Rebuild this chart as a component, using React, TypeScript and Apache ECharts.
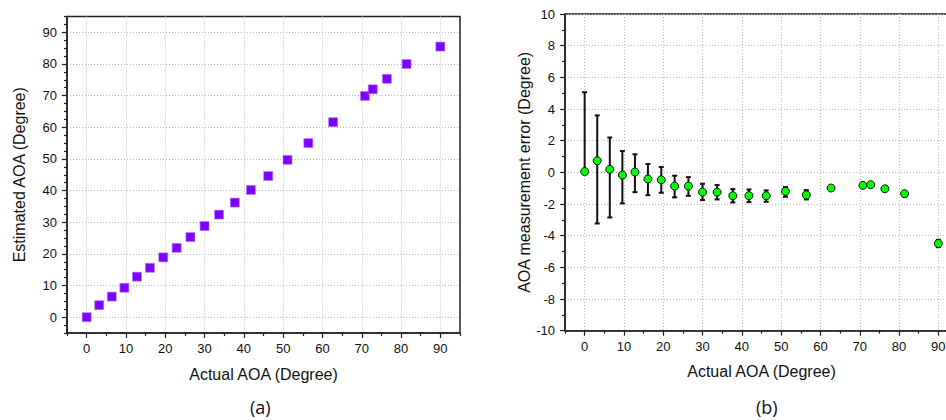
import React, { useEffect, useRef } from "react";
import * as echarts from "echarts";

// Actual AOA (degrees), shared by both panels
const actualAOA = [0, 3.2, 6.4, 9.6, 12.8, 16.1, 19.5, 22.9, 26.4, 30, 33.7, 37.7, 41.8, 46.2, 51.1, 56.4, 62.7, 70.8, 72.8, 76.4, 81.4, 90];
// Panel (a): estimated AOA
const estimatedAOA = [0, 3.8, 6.5, 9.3, 12.8, 15.6, 18.9, 21.9, 25.3, 28.8, 32.4, 36.2, 40.2, 44.6, 49.7, 55.0, 61.6, 69.9, 72.0, 75.3, 80.0, 85.5];
// Panel (b): mean measurement error and error-bar limits
const meanError = [0.05, 0.73, 0.19, -0.17, 0.02, -0.42, -0.47, -0.87, -0.87, -1.25, -1.25, -1.48, -1.47, -1.48, -1.2, -1.42, -0.99, -0.82, -0.78, -1.04, -1.35, -4.49];
const errorUpper = [5.06, 3.6, 2.2, 1.35, 1.14, 0.53, 0.34, -0.21, -0.3, -0.72, -0.8, -1.06, -1.08, -1.14, -0.93, -1.12, -0.93, -0.79, -0.75, -0.9, -1.2, -4.26];
const errorLower = [0.05, -3.23, -2.85, -1.96, -1.25, -1.44, -1.29, -1.58, -1.48, -1.75, -1.71, -1.9, -1.88, -1.86, -1.54, -1.71, -1.05, -0.85, -0.81, -1.18, -1.5, -4.72];

// Tick values
const xMajorTicks = [0, 10, 20, 30, 40, 50, 60, 70, 80, 90];
const xMinorTicks = [-5, 5, 15, 25, 35, 45, 55, 65, 75, 85, 95];
const yaMajorTicks = [0, 10, 20, 30, 40, 50, 60, 70, 80, 90];
const yaMinorTicks = [-5, -2.5, 2.5, 5, 7.5, 12.5, 15, 17.5, 22.5, 25, 27.5, 32.5, 35, 37.5, 42.5, 45, 47.5, 52.5, 55, 57.5, 62.5, 65, 67.5, 72.5, 75, 77.5, 82.5, 85, 87.5, 92.5, 95];

const AX = "#222";
const LABEL_FONT = "Liberation Sans";

function mainAxis(extra: any) {
  return {
    type: "value",
    axisLine: { show: true, onZero: false, lineStyle: { color: AX, width: 1.5 } },
    axisTick: { show: true, length: 5, lineStyle: { color: AX, width: 1.2 } },
    axisLabel: { color: "#111", fontSize: 13, fontFamily: LABEL_FONT },
    splitLine: { show: true, lineStyle: { color: "#bdbdbd", type: [1, 2], width: 1 } },
    nameLocation: "middle",
    nameTextStyle: { color: "#111", fontSize: 16, fontFamily: LABEL_FONT },
    ...extra,
  };
}

function minorAxis(extra: any) {
  return {
    type: "value",
    axisLine: { show: false, onZero: false },
    axisLabel: { show: false },
    splitLine: { show: false },
    axisTick: { show: true, length: 3, lineStyle: { color: AX, width: 1.2 } },
    ...extra,
  };
}

export default function App() {
  const ref = useRef<HTMLDivElement>(null);

  useEffect(() => {
    if (!ref.current) return;
    const chart = echarts.init(ref.current, null, { renderer: "svg" });

    const scatterA = actualAOA.map((x, i) => [x, estimatedAOA[i]]);
    const scatterB = actualAOA.map((x, i) => [x, meanError[i]]);
    const bars = actualAOA.map((x, i) => [x, errorLower[i], errorUpper[i]]);

    chart.setOption({
      animation: false,
      backgroundColor: "#fff",
      grid: [
        { left: 67, top: 16.5, width: 393, height: 316.5, show: true, borderColor: AX, borderWidth: 1.5, backgroundColor: "transparent" },
        { left: 565, top: 14, width: 393, height: 316.7, show: true, borderColor: AX, borderWidth: 1.5, backgroundColor: "transparent" },
      ],
      xAxis: [
        mainAxis({
          gridIndex: 0, position: "bottom", min: -5, max: 95, splitNumber: 10,
          axisTick: { show: true, length: 5, customValues: xMajorTicks, lineStyle: { color: AX, width: 1.2 } },
          axisLabel: { color: "#111", fontSize: 13, fontFamily: LABEL_FONT, margin: 9, customValues: xMajorTicks },
          name: "Actual AOA (Degree)", nameGap: 33,
        }),
        minorAxis({ gridIndex: 0, position: "bottom", min: -5, max: 95, axisTick: { show: true, length: 3, customValues: xMinorTicks, lineStyle: { color: AX, width: 1.2 } } }),
        mainAxis({
          gridIndex: 1, position: "bottom", min: -5, max: 95, splitNumber: 10,
          axisTick: { show: true, length: 5, customValues: xMajorTicks, lineStyle: { color: AX, width: 1.2 } },
          axisLabel: { color: "#111", fontSize: 13, fontFamily: LABEL_FONT, margin: 9, customValues: xMajorTicks },
          name: "Actual AOA (Degree)", nameGap: 33,
        }),
        minorAxis({ gridIndex: 1, position: "bottom", min: -5, max: 95, axisTick: { show: true, length: 3, customValues: xMinorTicks, lineStyle: { color: AX, width: 1.2 } } }),
      ],
      yAxis: [
        mainAxis({
          gridIndex: 0, position: "left", min: -5, max: 95, splitNumber: 10,
          axisTick: { show: true, length: 5, customValues: yaMajorTicks, lineStyle: { color: AX, width: 1.2 } },
          axisLabel: { color: "#111", fontSize: 13, fontFamily: LABEL_FONT, margin: 10, customValues: yaMajorTicks },
          name: "Estimated AOA (Degree)", nameGap: 40,
        }),
        minorAxis({ gridIndex: 0, position: "left", min: -5, max: 95, axisTick: { show: true, length: 3, customValues: yaMinorTicks, lineStyle: { color: AX, width: 1.2 } } }),
        mainAxis({
          gridIndex: 1, position: "left", min: -10, max: 10, interval: 2,
          minorTick: { show: true, splitNumber: 2, length: 3, lineStyle: { color: AX, width: 1.2 } },
          axisLabel: { color: "#111", fontSize: 13, fontFamily: LABEL_FONT, margin: 10 },
          name: "AOA measurement error (Degree)", nameGap: 33,
        }),
      ],
      series: [
        {
          type: "scatter", xAxisIndex: 0, yAxisIndex: 0, data: scatterA,
          symbol: "rect", symbolSize: 9,
          itemStyle: { color: "#7f00ff", borderColor: "#b07cff", borderWidth: 0.6, opacity: 1 },
          z: 5,
        },
        {
          type: "custom", xAxisIndex: 2, yAxisIndex: 2, data: bars,
          encode: { x: 0, y: [1, 2] },
          clip: false,
          renderItem: (params: any, api: any) => {
            const x = api.value(0);
            const lo = api.coord([x, api.value(1)]);
            const hi = api.coord([x, api.value(2)]);
            const st = { stroke: "#111", lineWidth: 2 };
            return {
              type: "group",
              children: [
                { type: "line", shape: { x1: lo[0], y1: lo[1], x2: hi[0], y2: hi[1] }, style: st },
                { type: "line", shape: { x1: lo[0] - 2.5, y1: lo[1], x2: lo[0] + 2.5, y2: lo[1] }, style: st },
                { type: "line", shape: { x1: hi[0] - 2.5, y1: hi[1], x2: hi[0] + 2.5, y2: hi[1] }, style: st },
              ],
            };
          },
          z: 3,
        },
        {
          type: "scatter", xAxisIndex: 2, yAxisIndex: 2, data: scatterB,
          symbol: "circle", symbolSize: 8, clip: false,
          itemStyle: { color: "#00ff00", borderColor: "#111", borderWidth: 1, opacity: 1 },
          z: 5,
        },
      ],
      graphic: [
        { type: "text", left: 250, top: 398, style: { text: "(a)", fontSize: 18, fontFamily: "Open Sans", fill: "#111" } },
        { type: "text", left: 756, top: 398, style: { text: "(b)", fontSize: 18, fontFamily: "Open Sans", fill: "#111" } },
      ],
    });

    return () => chart.dispose();
  }, []);

  return (
    <div style={{ position: "fixed", left: 0, top: 0, width: 946, height: 420, overflow: "hidden", background: "#fff" }}>
      <div ref={ref} style={{ width: 980, height: 420 }} />
    </div>
  );
}
